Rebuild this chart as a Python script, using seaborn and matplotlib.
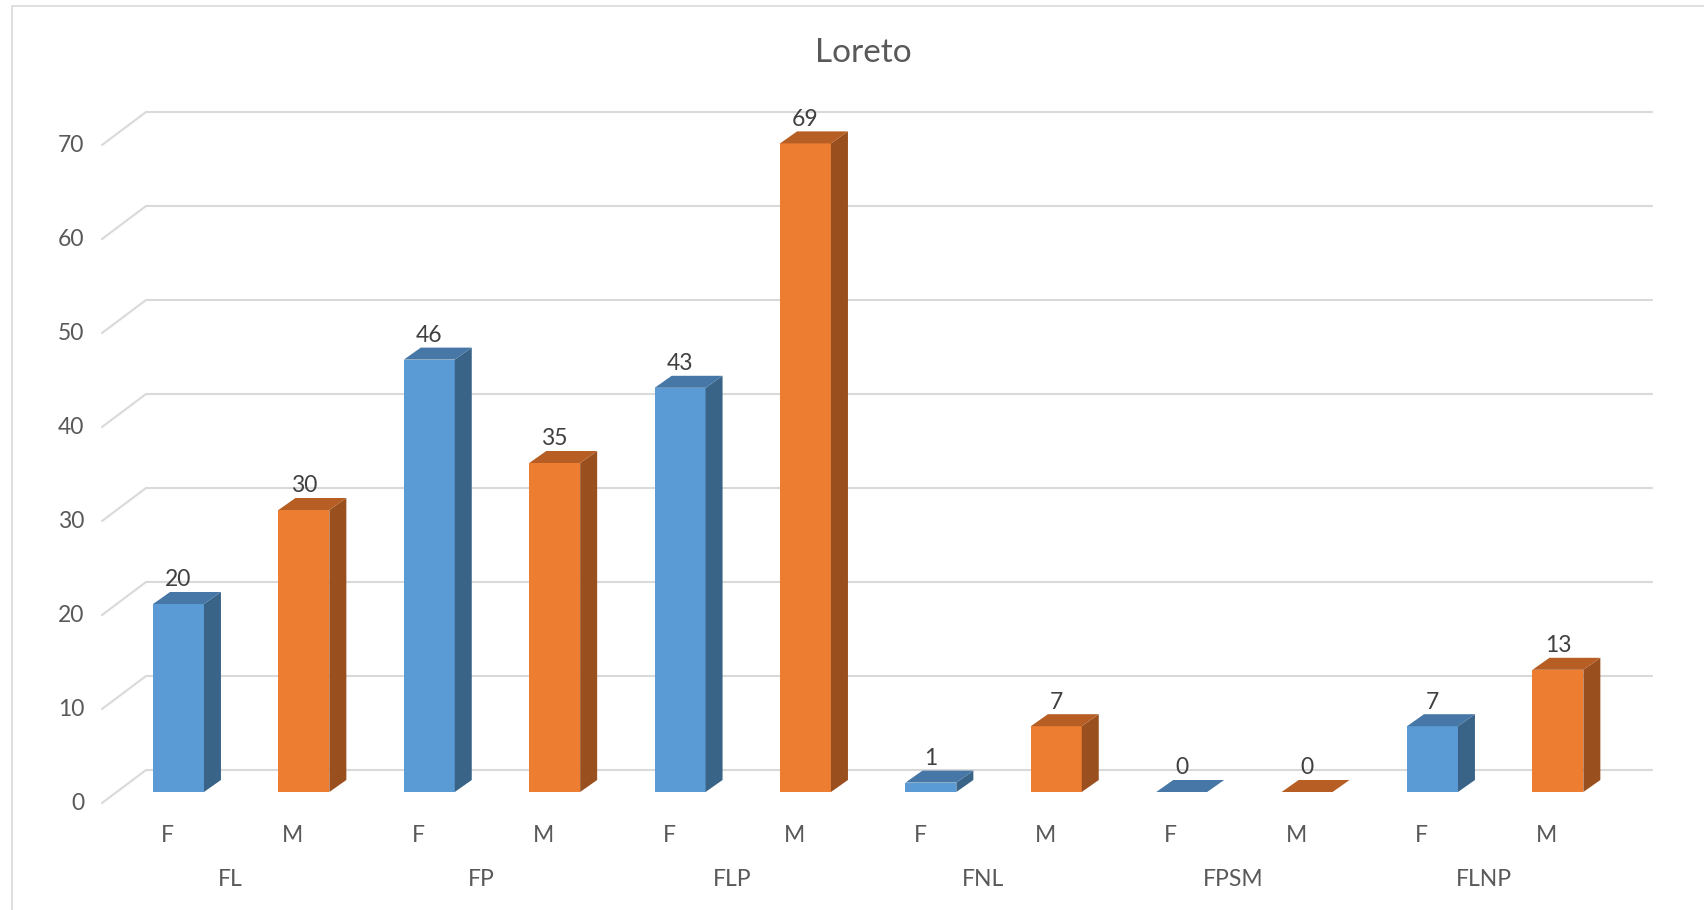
import numpy as np
import pandas as pd
import seaborn as sns
import matplotlib
matplotlib.use("Agg")
import matplotlib.pyplot as plt
from matplotlib.patches import Polygon, Rectangle
from matplotlib.lines import Line2D
from matplotlib.transforms import IdentityTransform

# ---- data ----
title = "Loreto"
groups = ["FL", "FP", "FLP", "FNL", "FPSM", "FLNP"]
sexes = ["F", "M"]
female = [20, 46, 43, 1, 0, 7]
male = [30, 35, 69, 7, 0, 13]
y_ticks = [0, 10, 20, 30, 40, 50, 60, 70]

rows = []
for g, f, m in zip(groups, female, male):
    rows.append({"group": g, "sex": "F", "value": f, "pos": f"{g}-F"})
    rows.append({"group": g, "sex": "M", "value": m, "pos": f"{g}-M"})
df = pd.DataFrame(rows)
order = list(df["pos"])

# ---- style ----
sns.set_theme(style="white")
plt.rcParams["font.family"] = ["Lato", "DejaVu Sans"]
TEXT = "#595959"
GRID = "#D9D9D9"
face = {"F": "#5B9BD5", "M": "#ED7D31"}
top_col = {"F": "#4677A6", "M": "#B65E24"}
side_col = {"F": "#396488", "M": "#9A4F1E"}
FS = 16.5

W_PX, H_PX = 1704, 910
fig = plt.figure(figsize=(W_PX / 100, H_PX / 100), dpi=100)
fig.patch.set_facecolor("white")

# axes placed so that the bar plane maps value 0 -> 792px, 70 -> 134px from top
y0_top, y70_top = 792, 134
x_first, step = 178.5, 125.4
left_px = x_first - 0.5 * step
ax = fig.add_axes([left_px / W_PX, (H_PX - y0_top) / H_PX,
                   12 * step / W_PX, (y0_top - y70_top) / H_PX])
ax.patch.set_alpha(0)

sns.barplot(data=df, x="pos", y="value", hue="sex", order=order,
            palette=face, dodge=False, width=0.406, saturation=1,
            legend=False, ax=ax, linewidth=0, zorder=3)
ax.set_xlim(-0.5, 11.5)
ax.set_ylim(0, 70)
ax.axis("off")

ident = IdentityTransform()
DX, DY = 17, 12              # bar depth in pixels
FLOOR_DX, FLOOR_DY = 44, 33  # front edge -> back wall offset

def to_px(x, y):
    return ax.transData.transform((x, y))

# back-wall gridlines with the sloped side stubs
for v in y_ticks:
    _, py = to_px(0, v)
    front_y = py - 11
    front_x = 102
    back_y = front_y + FLOOR_DY
    back_x = front_x + FLOOR_DX
    ax.add_line(Line2D([front_x, back_x, 1652], [front_y, back_y, back_y],
                       transform=ident, color=GRID, lw=1.5, zorder=0.5,
                       clip_on=False))
    fig.text(84 / W_PX, front_y / H_PX, str(v), ha="right", va="center",
             fontsize=FS, color=TEXT)

# 3D side and top faces for each bar, plus value labels
bars = [p for p in ax.patches if isinstance(p, Rectangle) and p is not ax.patch]
bars = sorted(bars, key=lambda p: p.get_x())
vals = df["value"].tolist()
sx = df["sex"].tolist()
for p, v, s in zip(bars, vals, sx):
    x0 = p.get_x()
    w = p.get_width()
    px0, py0 = to_px(x0, 0)
    px1, py1 = to_px(x0 + w, v)
    side = Polygon([(px1, py0), (px1 + DX, py0 + DY), (px1 + DX, py1 + DY), (px1, py1)],
                   closed=True, transform=ident, facecolor=side_col[s],
                   edgecolor="none", zorder=3, clip_on=False)
    top = Polygon([(px0, py1), (px1, py1), (px1 + DX, py1 + DY), (px0 + DX, py1 + DY)],
                  closed=True, transform=ident, facecolor=top_col[s],
                  edgecolor="none", zorder=3, clip_on=False)
    ax.add_patch(side)
    ax.add_patch(top)
    cx = (px0 + px1) / 2
    fig.text(cx / W_PX, (py1 + 24) / H_PX, str(v), ha="center", va="center",
             fontsize=FS, color="#404040")

# two-level category labels on the front edge
for i, (g, s) in enumerate(zip(df["group"], df["sex"])):
    cx, _ = to_px(i, 0)
    fig.text((cx - 11) / W_PX, (H_PX - 835) / H_PX, s, ha="center", va="center",
             fontsize=FS, color=TEXT)
for j, g in enumerate(groups):
    cx, _ = to_px(2 * j + 0.5, 0)
    fig.text((cx - 11) / W_PX, (H_PX - 880) / H_PX, g, ha="center", va="center",
             fontsize=FS, color=TEXT)

fig.text(863 / W_PX, (H_PX - 53) / H_PX, title, ha="center", va="center",
         fontsize=24, color=TEXT)

# chart area border
fig.add_artist(Rectangle((12, -5), 1700, 910 - 6 + 5, transform=ident,
                         facecolor="none", edgecolor=GRID, lw=1.2, zorder=0))

fig.savefig("out.png", dpi=100)
